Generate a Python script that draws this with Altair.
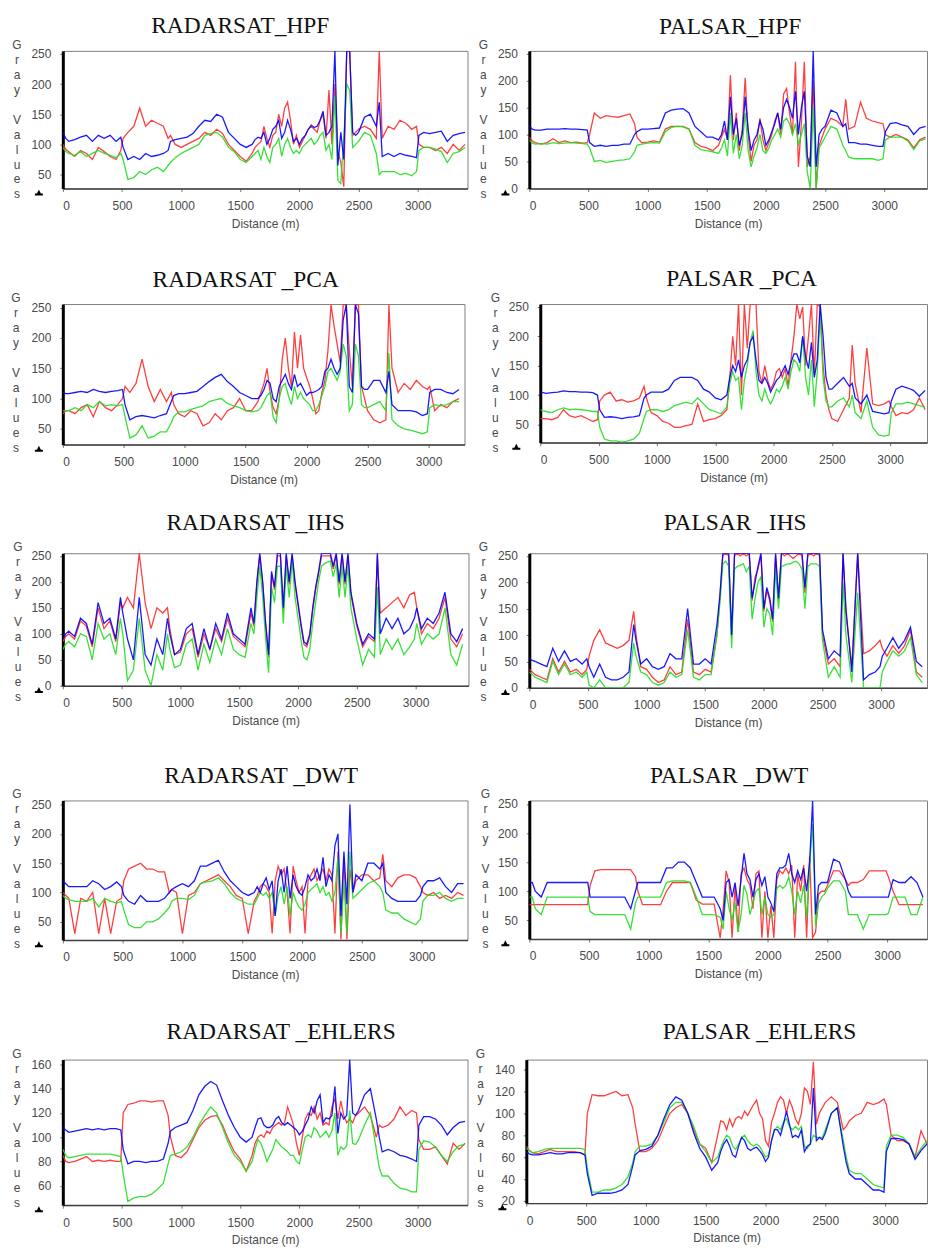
import altair as alt
import pandas as pd

# sample positions along the profile (m)
D = [0, 25, 50, 100, 150, 200, 250, 300, 350, 400, 450, 490,
     510, 550, 600, 650, 700, 750, 800, 850, 890,
     910, 950, 1000, 1050, 1100, 1150, 1200, 1250, 1300, 1350, 1400, 1450, 1500, 1550, 1600,
     1625, 1650, 1675, 1700, 1725, 1750, 1775, 1800, 1825, 1850, 1875, 1900, 1925, 1950, 1975, 2000,
     2025, 2050, 2075, 2100, 2125, 2150, 2175, 2200, 2225, 2250, 2275, 2300, 2325, 2350, 2375, 2400, 2425, 2450, 2475, 2500,
     2550, 2600, 2650, 2675, 2700, 2750, 2800, 2850, 2900, 2950, 2990,
     3010, 3050, 3100, 3150, 3200, 3250, 3300, 3350, 3400]

# ---------- RADARSAT_HPF ----------
R1 = [100, 92, 88, 80, 90, 85, 75, 95, 88, 80, 75, 90,
      110, 120, 130, 160, 130, 140, 135, 130, 110,
      115, 100, 95, 100, 105, 110, 120, 115, 125, 118, 100, 90, 80, 72, 85,
      95, 100, 105, 130, 110, 95, 115, 120, 150, 130, 160, 170, 140, 100, 115, 95,
      105, 115, 125, 130, 125, 120, 140, 150, 110, 190, 100, 200, 90, 70, 30, 255, 255, 115, 120, 125,
      130, 125, 110, 255, 110, 130, 125, 140, 135, 125, 130,
      100, 95, 95, 90, 95, 85, 100, 90, 100]
G1 = [95, 88, 85, 82, 88, 80, 85, 90, 85, 82, 78, 85,
      75, 42, 45, 55, 50, 58, 62, 55, 65,
      70, 78, 85, 90, 95, 100, 115, 118, 120, 112, 95, 88, 75, 70, 80,
      85, 90, 75, 95, 80, 70, 95, 100, 110, 80, 100, 110, 95, 85, 90, 85,
      95, 100, 105, 110, 100, 105, 115, 120, 90, 100, 75, 180, 40, 35, 110, 200, 190, 95, 100, 105,
      120, 115, 85, 50, 55, 55, 55, 50, 52, 48, 55,
      90, 95, 95, 92, 88, 70, 85, 88, 95]
B1 = [120, 110, 105, 108, 112, 115, 105, 115, 110, 115, 105, 112,
      95, 75, 80, 75, 85, 80, 82, 85, 90,
      105, 108, 110, 112, 118, 130, 140, 138, 150, 145, 120, 110, 100, 95, 100,
      108, 112, 110, 120, 100, 110, 125, 130, 140, 110, 120, 140, 125, 105, 110, 100,
      110, 115, 125, 132, 128, 130, 140, 155, 115, 120, 130, 255, 65, 120, 75, 255, 255, 120, 115, 120,
      145, 150, 130, 170, 80, 85, 80, 85, 82, 80, 78,
      115, 120, 118, 120, 122, 105, 115, 118, 120]

# ---------- PALSAR_HPF ----------
R2 = [95, 88, 85, 82, 85, 92, 85, 88, 85, 86, 84, 85,
      100, 140, 130, 135, 133, 132, 135, 138, 120,
      95, 85, 86, 88, 86, 110, 115, 115, 115, 110, 85, 78, 75, 70, 80,
      95, 110, 90, 210, 90, 140, 70, 110, 205, 100, 50, 80, 90, 130, 90, 70,
      85, 100, 125, 140, 100, 175, 185, 140, 100, 235, 40, 120, 235, 40, 60, 200, 0, 80, 95, 110,
      130, 125, 115, 165, 110, 115, 160, 130, 125, 122, 120,
      100, 95, 100, 95, 90, 75, 90, 95, 92]
G2 = [90, 84, 82, 83, 82, 85, 83, 84, 85, 84, 83, 82,
      75, 50, 52, 48, 50, 52, 53, 55, 68,
      80, 82, 84, 85, 84, 105, 113, 115, 114, 110, 80, 72, 70, 68, 65,
      75, 90, 60, 140, 65, 100, 55, 80, 140, 70, 40, 60, 75, 100, 70, 65,
      75, 90, 100, 110, 95, 125, 130, 120, 100, 120, 80, 100, 120, 30, 0, 150, 0, 75, 85, 95,
      115, 110, 80, 70, 58, 55, 55, 55, 55, 52, 55,
      90, 95, 95, 95, 88, 72, 88, 92, 92]
B2 = [115, 110, 108, 108, 110, 110, 110, 111, 110, 110, 109, 108,
      85, 78, 80, 78, 80, 80, 82, 82, 100,
      105, 110, 110, 111, 112, 140, 145, 147, 148, 140, 115, 105, 95, 95, 90,
      100, 125, 90, 170, 100, 130, 80, 100, 170, 110, 70, 90, 100, 125, 110, 80,
      90, 105, 120, 140, 110, 150, 165, 150, 130, 180, 100, 150, 180, 60, 40, 255, 40, 100, 110, 115,
      145, 140, 115, 120, 85, 85, 82, 82, 80, 78, 78,
      105, 120, 122, 118, 115, 100, 112, 115, 115]

# ---------- RADARSAT _PCA ----------
R3 = [75, 80, 80, 75, 85, 90, 70, 95, 85, 80, 90, 100,
      120, 110, 125, 165, 120, 95, 115, 95, 110,
      90, 75, 70, 80, 75, 55, 60, 75, 65, 80, 85, 100, 80, 80, 95,
      110, 125, 150, 110, 85, 75, 100, 165, 200, 150, 120, 210, 150, 205, 150, 135,
      120, 100, 75, 80, 110, 130, 180, 255, 220, 190, 160, 255, 255, 180, 120, 255, 255, 120, 100, 80,
      65, 60, 65, 255, 150, 110, 125, 115, 130, 120, 115,
      120, 80, 90, 85, 95, 100, 120, 85, 60]
G3 = [80, 80, 80, 85, 80, 90, 85, 95, 88, 90, 88, 90,
      70, 35, 40, 55, 35, 38, 45, 45, 60,
      70, 78, 78, 82, 85, 88, 95, 98, 100, 92, 88, 85, 80, 78, 80,
      85, 95, 105, 110, 70, 60, 100, 120, 125, 105, 90, 120, 100, 110, 100, 95,
      90, 80, 80, 90, 105, 120, 145, 150, 140, 130, 145, 190, 170, 80, 90, 190, 170, 90, 85, 85,
      90, 95, 80, 175, 65, 55, 50, 48, 45, 42, 45,
      85, 90, 88, 90, 95, 95, 92, 80, 78]
B3 = [110, 108, 108, 110, 112, 110, 115, 112, 110, 112, 113, 115,
      90, 65, 70, 72, 70, 68, 72, 75, 95,
      105, 108, 108, 110, 112, 120, 128, 135, 140, 128, 120, 110, 105, 100, 100,
      105, 115, 130, 125, 100, 95, 120, 130, 140, 125, 115, 140, 120, 125, 115, 105,
      110, 110, 112, 115, 120, 145, 150, 165, 150, 140, 150, 230, 255, 120, 110, 255, 240, 120, 115, 115,
      130, 130, 110, 145, 90, 80, 80, 80, 78, 72, 75,
      110, 115, 115, 110, 108, 115, 112, 110, 108]

# ---------- PALSAR _PCA ----------
R4 = [60, 60, 60, 58, 62, 75, 65, 62, 65, 60, 55, 58,
      90, 100, 105, 90, 92, 88, 90, 95, 115,
      95, 70, 65, 55, 52, 45, 45, 48, 50, 85, 55, 58, 60, 65, 75,
      130, 200, 150, 255, 100, 255, 180, 255, 255, 255, 140, 120, 150, 125, 110, 120,
      140, 145, 130, 145, 115, 160, 200, 255, 230, 250, 150, 200, 255, 135, 255, 250, 150, 100, 75, 60,
      55, 75, 95, 185, 120, 70, 180, 85, 82, 85, 90,
      80, 65, 70, 68, 75, 95, 75, 60, 55]
G4 = [75, 73, 72, 70, 75, 78, 75, 76, 75, 74, 72, 72,
      45, 25, 22, 22, 20, 22, 25, 35, 60,
      72, 75, 75, 72, 75, 82, 85, 88, 85, 95, 85, 75, 72, 68, 80,
      120, 140, 125, 130, 75, 125, 150, 190, 210, 140, 100, 90, 110, 95, 85, 95,
      110, 105, 115, 130, 110, 140, 160, 155, 140, 200, 130, 100, 160, 80, 140, 240, 130, 90, 80, 80,
      90, 95, 80, 100, 70, 60, 90, 45, 32, 30, 32,
      70, 85, 85, 88, 85, 82, 80, 75, 75]
B4 = [105, 104, 103, 104, 105, 107, 106, 106, 105, 105, 104, 100,
      75, 62, 63, 62, 60, 62, 63, 65, 95,
      100, 105, 105, 105, 110, 125, 130, 130, 130, 125, 110, 105, 95, 92, 100,
      130, 150, 140, 160, 130, 150, 160, 190, 200, 160, 125, 120, 130, 120, 105, 115,
      125, 130, 140, 150, 135, 155, 170, 170, 155, 200, 165, 145, 190, 130, 160, 255, 200, 130, 110, 110,
      120, 130, 115, 120, 95, 85, 100, 72, 70, 68, 70,
      90, 110, 115, 112, 108, 98, 108, 105, 108]

# ---------- RADARSAT _IHS ----------
R5 = [85, 95, 100, 90, 125, 115, 75, 150, 110, 125, 85, 160,
      150, 170, 150, 255, 160, 110, 150, 140, 150,
      110, 60, 65, 100, 110, 55, 100, 70, 110, 85, 130, 95, 85, 75, 140,
      115, 195, 250, 195, 115, 55, 215, 185, 250, 250, 145, 250, 195, 250, 195, 155,
      115, 80, 75, 95, 145, 185, 215, 250, 250, 250, 250, 225, 250, 195, 250, 195, 250, 175, 145, 115,
      75, 95, 85, 250, 140, 150, 160, 170, 150, 175, 180,
      150, 100, 120, 110, 130, 170, 90, 75, 100]
G5 = [70, 80, 85, 75, 100, 95, 50, 120, 90, 100, 60, 130,
      100, 10, 30, 130, 30, 0, 60, 30, 100,
      70, 35, 40, 80, 90, 30, 80, 45, 90, 60, 110, 70, 60, 55, 120,
      100, 170, 230, 170, 90, 25, 190, 160, 230, 230, 120, 230, 170, 240, 170, 130,
      90, 55, 50, 70, 120, 160, 200, 230, 235, 238, 240, 210, 235, 170, 230, 170, 230, 150, 120, 90,
      40, 70, 55, 190, 60, 90, 70, 90, 60, 75, 90,
      120, 80, 100, 90, 100, 150, 60, 40, 80]
B5 = [90, 100, 105, 95, 130, 120, 80, 160, 120, 130, 90, 170,
      140, 90, 50, 170, 60, 40, 90, 60, 130,
      100, 60, 70, 110, 120, 60, 110, 70, 120, 90, 140, 100, 90, 80, 150,
      120, 200, 255, 200, 120, 60, 220, 190, 255, 255, 150, 255, 200, 255, 200, 160,
      120, 85, 80, 100, 150, 190, 220, 255, 255, 255, 255, 230, 255, 200, 255, 200, 255, 180, 150, 120,
      80, 100, 90, 255, 100, 130, 110, 130, 100, 110, 130,
      150, 110, 130, 120, 140, 180, 100, 85, 110]

# ---------- PALSAR _IHS ----------
R6 = [35, 30, 25, 20, 15, 55, 30, 50, 30, 35, 25, 35,
      60, 90, 110, 85, 80, 75, 80, 90, 145,
      100, 40, 35, 20, 10, 15, 40, 25, 30, 130, 30, 25, 35, 30, 100,
      170, 250, 255, 250, 95, 250, 255, 250, 255, 250, 255, 165, 210, 225, 250, 145,
      185, 165, 125, 250, 165, 255, 250, 255, 250, 245, 250, 255, 250, 180, 250, 255, 250, 255, 250, 100,
      45, 55, 40, 255, 140, 40, 255, 65, 70, 80, 90,
      75, 60, 80, 65, 80, 110, 30, 20, 35]
G6 = [30, 25, 20, 15, 10, 50, 25, 45, 25, 30, 20, 30,
      5, 0, 15, 0, 0, 0, 0, 10, 85,
      60, 30, 25, 10, 5, 10, 30, 20, 25, 110, 20, 15, 25, 25, 100,
      160, 235, 240, 230, 75, 225, 230, 232, 235, 220, 230, 130, 170, 200, 210, 115,
      150, 140, 100, 225, 150, 230, 232, 235, 235, 238, 240, 235, 225, 150, 230, 235, 235, 235, 230, 90,
      20, 40, 20, 200, 100, 10, 180, 0, 0, 0, 0,
      30, 50, 70, 60, 70, 95, 25, 10, 30]
B6 = [55, 52, 50, 45, 40, 75, 50, 70, 50, 55, 45, 55,
      40, 20, 45, 20, 15, 15, 20, 30, 120,
      90, 45, 55, 40, 35, 40, 65, 55, 55, 150, 45, 45, 55, 45, 120,
      175, 255, 255, 255, 100, 255, 255, 255, 255, 255, 255, 170, 200, 230, 255, 150,
      190, 170, 130, 255, 170, 255, 255, 255, 255, 255, 255, 255, 255, 190, 255, 255, 255, 255, 255, 110,
      55, 70, 60, 255, 150, 30, 255, 15, 25, 30, 40,
      60, 75, 95, 75, 90, 115, 50, 40, 60]

# ---------- RADARSAT _DWT ----------
R7 = [100, 95, 90, 30, 90, 85, 100, 30, 90, 30, 85, 90,
      120, 140, 145, 150, 140, 140, 135, 135, 100,
      105, 100, 30, 95, 100, 115, 120, 125, 130, 120, 110, 95, 90, 30, 85,
      95, 110, 115, 110, 100, 30, 120, 145, 130, 140, 100, 30, 145, 120, 100, 110,
      30, 120, 130, 140, 120, 130, 140, 120, 140, 130, 30, 170, 20, 160, 20, 140, 100, 120, 125, 130,
      130, 120, 125, 165, 120, 110, 125, 130, 130, 125, 110,
      100, 95, 100, 90, 95, 90, 100, 95, 95]
G7 = [95, 90, 88, 85, 85, 85, 90, 75, 90, 85, 82, 85,
      70, 45, 40, 40, 50, 50, 55, 65, 75,
      85, 90, 90, 88, 95, 115, 118, 120, 125, 115, 100, 90, 85, 80, 80,
      90, 100, 95, 100, 90, 100, 60, 95, 110, 80, 110, 60, 100, 85, 75, 70,
      80, 100, 105, 110, 115, 100, 110, 95, 100, 85, 100, 160, 30, 120, 30, 170, 90, 95, 100, 105,
      115, 120, 110, 100, 70, 65, 65, 55, 50, 45, 55,
      85, 95, 95, 100, 90, 85, 90, 90, 92]
B7 = [120, 115, 110, 110, 110, 110, 120, 115, 105, 110, 118, 110,
      95, 85, 80, 95, 85, 85, 85, 90, 100,
      105, 110, 115, 110, 120, 145, 145, 150, 155, 135, 120, 110, 100, 95, 100,
      110, 100, 115, 125, 105, 120, 60, 120, 140, 100, 145, 90, 130, 110, 100, 95,
      110, 130, 120, 125, 140, 120, 160, 110, 130, 120, 180, 200, 60, 170, 80, 250, 100, 130, 125, 120,
      150, 150, 140, 150, 100, 90, 85, 85, 85, 85, 95,
      110, 120, 120, 125, 110, 100, 115, 115, 120]

# ---------- PALSAR _DWT ----------
R8 = [77, 77, 77, 77, 77, 77, 77, 77, 77, 77, 77, 77,
      110, 135, 137, 137, 137, 137, 137, 137, 125,
      100, 77, 77, 77, 77, 100, 115, 115, 115, 115, 85, 78, 78, 78, 20,
      70, 135, 115, 20, 110, 30, 130, 140, 120, 110, 70, 130, 135, 20, 100, 20,
      75, 20, 120, 135, 130, 140, 130, 145, 20, 130, 100, 145, 20, 160, 20, 30, 95, 100, 100, 110,
      135, 135, 120, 110, 115, 115, 120, 135, 135, 135, 135,
      125, 100, 77, 77, 77, 77, 77, 77, 77]
G8 = [90, 90, 70, 60, 90, 90, 90, 90, 90, 90, 90, 90,
      65, 60, 60, 60, 60, 60, 60, 35, 80,
      90, 90, 90, 90, 90, 115, 118, 118, 118, 115, 90, 60, 60, 60, 55,
      35, 100, 70, 50, 80, 30, 60, 110, 95, 60, 80, 100, 105, 60, 90, 60,
      55, 60, 105, 110, 105, 110, 125, 100, 60, 100, 80, 110, 55, 145, 215, 40, 80, 90, 95, 105,
      118, 118, 100, 60, 60, 60, 35, 60, 60, 60, 60,
      62, 90, 90, 90, 60, 60, 90, 90, 90]
B8 = [115, 115, 100, 90, 115, 115, 115, 115, 115, 115, 115, 115,
      90, 90, 90, 90, 90, 90, 90, 70, 100,
      115, 115, 115, 115, 115, 140, 140, 150, 150, 140, 115, 90, 90, 90, 70,
      50, 115, 120, 90, 115, 75, 120, 165, 130, 120, 90, 120, 130, 110, 125, 90,
      80, 65, 130, 140, 140, 145, 165, 130, 115, 135, 120, 140, 100, 150, 255, 60, 110, 115, 115, 115,
      155, 150, 120, 100, 90, 90, 90, 90, 90, 90, 90,
      90, 120, 115, 115, 125, 115, 90, 115, 115]

# ---------- RADARSAT _EHLERS ----------
R9 = [85, 80, 79, 80, 82, 84, 80, 81, 80, 81, 80, 80,
      120, 127, 128, 130, 130, 129, 130, 130, 118,
      100, 85, 83, 88, 98, 108, 114, 117, 118, 110, 98, 88, 82, 72, 85,
      95, 100, 102, 100, 105, 103, 108, 110, 112, 110, 112, 125, 118, 110, 95, 85,
      100, 115, 120, 118, 125, 115, 120, 110, 112, 110, 125, 132, 115, 130, 118, 112, 115, 112, 118, 120,
      125, 118, 100, 110, 108, 110, 115, 125, 118, 122, 120,
      98, 90, 90, 92, 85, 78, 95, 90, 95]
G9 = [90, 85, 83, 84, 85, 86, 86, 86, 86, 86, 85, 84,
      70, 47, 50, 51, 51, 53, 57, 62, 78,
      85, 86, 88, 92, 100, 110, 118, 125, 120, 108, 95, 85, 80, 72, 80,
      90, 98, 95, 88, 80, 85, 90, 98, 95, 92, 90, 88, 85, 85, 80, 78,
      90, 100, 102, 100, 108, 105, 100, 102, 105, 100, 105, 120, 85, 92, 90, 93, 122, 95, 94, 98,
      110, 120, 90, 75, 68, 68, 62, 58, 57, 55, 55,
      90, 97, 96, 92, 85, 80, 88, 93, 94]
B9 = [108, 106, 104, 105, 106, 107, 106, 107, 106, 107, 107, 106,
      90, 78, 80, 80, 79, 80, 80, 82, 95,
      105, 108, 110, 112, 122, 135, 142, 146, 143, 130, 118, 108, 100, 96, 100,
      108, 115, 116, 110, 108, 108, 110, 115, 117, 112, 110, 112, 110, 108, 106, 102,
      105, 110, 115, 125, 120, 130, 135, 112, 116, 115, 118, 142, 103, 120, 115, 118, 164, 120, 118, 122,
      135, 140, 115, 100, 88, 90, 88, 85, 84, 82, 80,
      110, 117, 117, 115, 110, 102, 108, 112, 113]

# ---------- PALSAR _EHLERS ----------
R10 = [70, 66, 64, 63, 65, 67, 65, 65, 65, 65, 64, 62,
       100, 117, 116, 116, 118, 120, 116, 117, 105,
       90, 65, 65, 68, 75, 88, 100, 105, 108, 100, 85, 72, 68, 55, 80,
       93, 92, 85, 95, 88, 95, 97, 95, 102, 98, 103, 108, 112, 100, 95, 75,
       70, 92, 100, 110, 115, 112, 100, 112, 105, 95, 90, 100, 123, 120, 108, 147, 90, 100, 105, 110,
       115, 110, 85, 88, 93, 98, 100, 110, 108, 110, 113,
       108, 80, 75, 75, 72, 60, 84, 72, 75]
G10 = [68, 66, 64, 65, 67, 68, 68, 68, 68, 68, 68, 67,
       50, 28, 28, 30, 30, 32, 35, 42, 55,
       65, 70, 70, 72, 80, 92, 105, 110, 110, 100, 88, 72, 65, 55, 60,
       68, 75, 80, 78, 70, 67, 72, 78, 80, 75, 72, 70, 72, 70, 65, 60,
       62, 75, 85, 88, 85, 92, 95, 88, 85, 88, 85, 88, 70, 68, 72, 80, 78, 78, 78, 85,
       100, 105, 75, 60, 48, 45, 45, 40, 35, 33, 32,
       70, 80, 80, 78, 72, 60, 68, 75, 80]
B10 = [65, 63, 62, 62, 63, 64, 63, 63, 64, 64, 64, 62,
       45, 25, 27, 27, 27, 28, 30, 35, 52,
       62, 66, 67, 70, 80, 95, 108, 115, 112, 100, 82, 68, 60, 48, 55,
       65, 72, 76, 70, 62, 60, 70, 78, 75, 68, 66, 68, 69, 66, 62, 56,
       60, 75, 85, 85, 80, 90, 102, 90, 78, 80, 78, 85, 65, 70, 72, 123, 75, 78, 76, 82,
       100, 105, 70, 55, 45, 40, 40, 35, 30, 30, 28,
       65, 77, 77, 76, 72, 58, 66, 72, 76]

TICKS_250_0 = [0, 50, 100, 150, 200, 250]
TICKS_250_50 = [50, 100, 150, 200, 250]
TICKS_E1 = [60, 80, 100, 120, 140, 160]
TICKS_E2 = [20, 40, 60, 80, 100, 120, 140]
XTICKS = [0, 500, 1000, 1500, 2000, 2500, 3000]

# vertical axis caption, one letter per line (line 4 is blank)
YLETTERS = ["G", "r", "a", "y", "V", "a", "l", "u", "e", "s"]
YLINES = [0, 1, 2, 3, 5, 6, 7, 8, 9, 10]

RED, GREEN, BLUE = "#ff2a2a", "#22dd22", "#0000ff"
ICON = "M-1,0.3 L1,0.3 L1,0.8 L-1,0.8 Z M-0.5,0.3 L0,-0.7 L0.5,0.3 Z"
LABEL_GRAY = "#4a4a4a"

# (title, R, G, B, ydomain, yticks, width, height, xmax, anchorX, titleDx, titleGap, yCaptionX)
PANELS = [
    ("RADARSAT_HPF", R1, G1, B1, [27, 255], TICKS_250_50, 406, 138, 3421, -54, -25, 18, -46),
    ("PALSAR_HPF", R2, G2, B2, [0, 255], TICKS_250_0, 399, 138, 3362, -60, 2, 17, -46),
    ("RADARSAT _PCA", R3, G3, B3, [24, 256], TICKS_250_50, 403, 141, 3295, -54, -18, 17, -47),
    ("PALSAR _PCA", R4, G4, B4, [19, 255], TICKS_250_50, 388, 139, 3316, -74, 8, 18, -45),
    ("RADARSAT _IHS", R5, G5, B5, [0, 255], TICKS_250_0, 407, 133, 3450, -54, -10, 23, -45),
    ("PALSAR _IHS", R6, G6, B6, [0, 255], TICKS_250_0, 399, 135, 3391, -59, 7, 23, -46),
    ("RADARSAT _DWT", R7, G7, B7, [19, 257], TICKS_250_50, 406, 140, 3383, -54, -4, 17, -46),
    ("PALSAR _DWT", R8, G8, B8, [18, 256], TICKS_250_50, 399, 139, 3334, -60, 1, 17, -44),
    ("RADARSAT _EHLERS", R9, G9, B9, [44, 164], TICKS_E1, 406, 146, 3421, -54, 16, 21, -46),
    ("PALSAR _EHLERS", R10, G10, B10, [18, 149], TICKS_E2, 402, 144, 3350, -57, 33, 21, -46),
]


def panel(spec):
    title, r, g, b, ydom, yticks, w, h, xmax, ax, tdx, tgap, ycx = spec
    for s in (r, g, b):
        assert len(s) == len(D), (title, len(r), len(g), len(b), len(D))
    xenc = alt.X("d:Q",
                 scale=alt.Scale(domain=[0, xmax], nice=False, zero=False),
                 axis=alt.Axis(values=XTICKS, title="Distance (m)", format="d"))
    yscale = alt.Scale(domain=ydom, nice=False, zero=False)
    layers = [
        # invisible anchor fixing the panel's left/top extent
        alt.Chart(pd.DataFrame({"a": [0]})).mark_point(opacity=0, size=1)
        .encode(x=alt.value(ax), y=alt.value(-12)),
    ]
    first = True
    for vals, col in ((r, RED), (g, GREEN), (b, BLUE)):
        df = pd.DataFrame({"d": D, "v": vals})
        df = df[df["d"] <= xmax]          # only the part of the profile inside the frame
        yaxis = alt.Axis(values=yticks, title=None, format="d") if first else None
        first = False
        layers.append(alt.Chart(df).mark_line(color=col, strokeWidth=1.3, opacity=0.9, clip=True)
                      .encode(x=xenc, y=alt.Y("v:Q", scale=yscale, axis=yaxis)))
    # stacked letters of the vertical caption
    layers.append(
        alt.Chart(pd.DataFrame({"t": YLETTERS, "i": YLINES}))
        .mark_text(font="Liberation Sans", fontSize=12, color=LABEL_GRAY, baseline="middle",
                   align="center")
        .encode(text="t:N", x=alt.value(ycx),
                y=alt.Y("i:Q", scale=alt.Scale(domain=[0, 10], range=[-6, 144]), axis=None))
    )
    layers.append(
        alt.Chart(pd.DataFrame({"a": [0]})).mark_point(shape=ICON, filled=True, color="black",
                                                       size=64, opacity=1)
        .encode(x=alt.value(-24), y=alt.value(h + 4))
    )
    layers.append(
        alt.Chart(pd.DataFrame({"a": [0]}))
        .mark_text(text=title, font="Liberation Serif", fontSize=23.5, color="#111111",
                   align="center", baseline="alphabetic")
        .encode(x=alt.value(w / 2 + tdx), y=alt.value(-tgap))
    )
    return alt.layer(*layers).resolve_scale(y="independent").properties(width=w, height=h)


P = [panel(s) for s in PANELS]
rows = [alt.hconcat(P[i], P[i + 1], spacing=0) for i in range(0, 10, 2)]

chart = alt.vconcat(
    rows[0],
    alt.vconcat(
        rows[1],
        alt.vconcat(
            rows[2],
            alt.vconcat(rows[3], rows[4], spacing=37),
            spacing=34),
        spacing=24),
    spacing=36,
).properties(
    padding={"left": 0, "top": 3, "right": 0, "bottom": 0}
).configure_view(
    stroke="#808080", strokeWidth=1
).configure_axis(
    grid=False, tickSize=3, tickColor="#707070", labelPadding=9,
    labelFont="Liberation Sans", labelFontSize=12, labelColor=LABEL_GRAY,
    titleFont="Liberation Sans", titleFontSize=12, titleColor=LABEL_GRAY,
    titleFontWeight="normal", titlePadding=7
).configure_axisY(
    domainColor="black", domainWidth=3
).configure_axisX(
    domainColor="#404040", domainWidth=1.5
)

chart.save("out.html", embed_options={"renderer": "svg", "actions": False})
